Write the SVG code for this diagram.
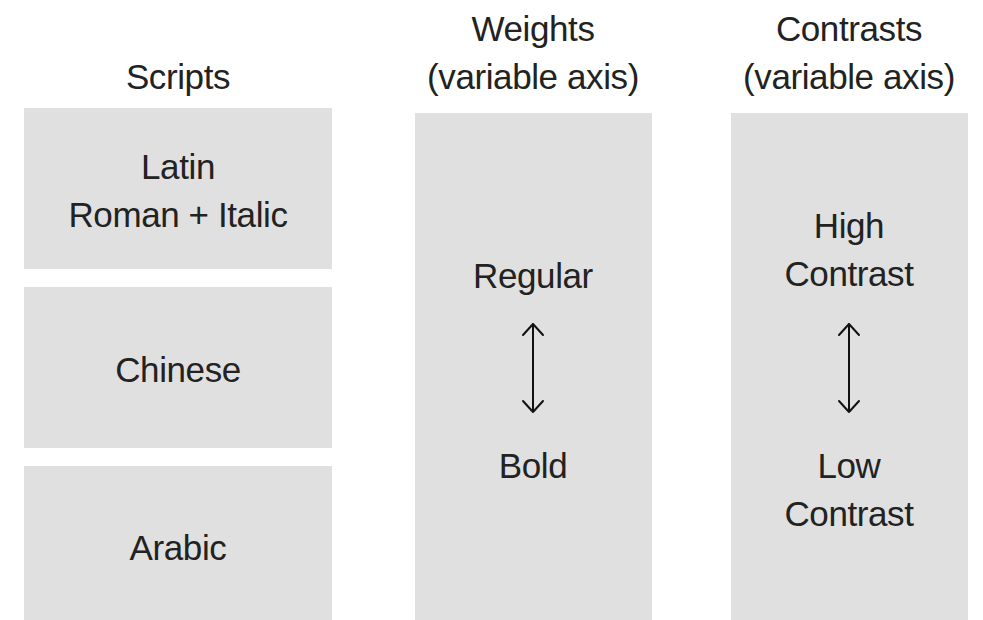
<svg xmlns="http://www.w3.org/2000/svg" width="983" height="620" viewBox="0 0 983 620">
  <style>
    .box { fill: #e0e0e0; }
    .t { font-family: "Liberation Sans", Arial, sans-serif; font-size: 35px; fill: #222222; text-anchor: middle; letter-spacing: -0.4px; }
    .arrow { stroke: #111111; stroke-width: 2; fill: none; stroke-linecap: round; stroke-linejoin: round; }
  </style>
  <rect width="983" height="620" fill="#ffffff"/>

  <g id="header-scripts"><text class="t" x="178" y="89">Scripts</text></g>
  <g id="header-weights"><text class="t" x="533" y="41">Weights</text><text class="t" x="533" y="89">(variable axis)</text></g>
  <g id="header-contrasts"><text class="t" x="849" y="41">Contrasts</text><text class="t" x="849" y="89">(variable axis)</text></g>

  <g id="latin"><rect class="box" x="24" y="108" width="308" height="161"/><text class="t" x="178" y="179">Latin</text><text class="t" x="178" y="227">Roman + Italic</text></g>
  <g id="chinese"><rect class="box" x="24" y="287" width="308" height="161"/><text class="t" x="178" y="382">Chinese</text></g>
  <g id="arabic"><rect class="box" x="24" y="466" width="308" height="154"/><text class="t" x="178" y="560">Arabic</text></g>

  <g id="weights"><rect class="box" x="415" y="113" width="237" height="507"/><text class="t" x="533" y="288">Regular</text><text class="t" x="533" y="478">Bold</text></g>
  <g id="contrasts"><rect class="box" x="731" y="113" width="237" height="507"/><text class="t" x="849" y="238">High</text><text class="t" x="849" y="286">Contrast</text><text class="t" x="849" y="478">Low</text><text class="t" x="849" y="526">Contrast</text></g>

  <g id="connectors">
    <path class="arrow" d="M533 324 V412 M523 335 L533 324 L543 335 M523 401 L533 412 L543 401"/>
    <path class="arrow" d="M849 324 V412 M839 335 L849 324 L859 335 M839 401 L849 412 L859 401"/>
  </g>
</svg>
